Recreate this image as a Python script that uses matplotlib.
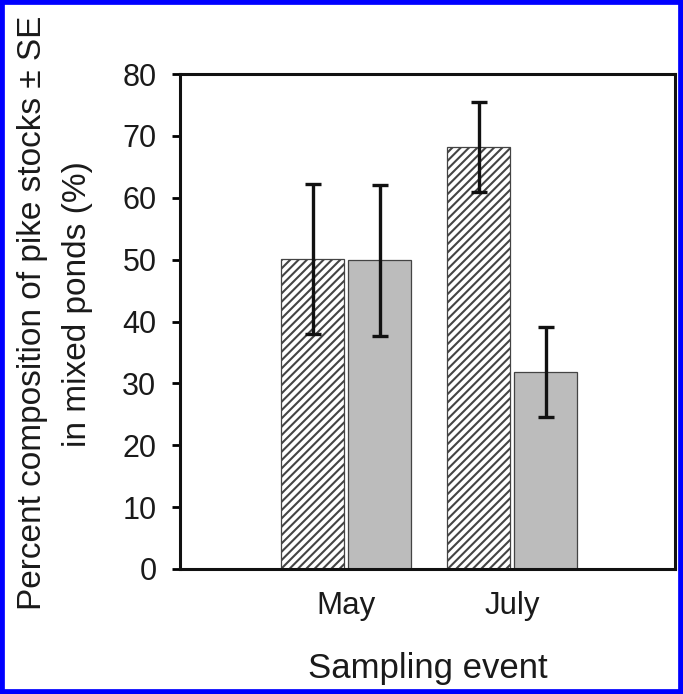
import matplotlib
matplotlib.use("Agg")
import matplotlib.pyplot as plt
from matplotlib.patches import Rectangle
import numpy as np

plt.rcParams['font.family'] = ['Liberation Sans', 'DejaVu Sans']
plt.rcParams['hatch.linewidth'] = 1.5
plt.rcParams['hatch.color'] = '#333333'

categories = ["May", "July"]
series_a = [50.1, 68.2]      # hatched
series_a_se = [12.2, 7.3]
series_b = [49.9, 31.8]      # grey
series_b_se = [12.2, 7.3]
yticks = [0, 10, 20, 30, 40, 50, 60, 70, 80]

fig = plt.figure(figsize=(6.83, 6.94), dpi=100)
ax = fig.add_axes([180/683, 1-569/694, 495/683, 495/694])

x = np.arange(len(categories))
w = 0.38
gap = 0.012
ax.bar(x - w/2 - gap, series_a, width=w, color='white', edgecolor='#444444',
       linewidth=0.9, hatch='////', zorder=2)
ax.bar(x + w/2 + gap, series_b, width=w, color='#bcbcbc', edgecolor='#444444',
       linewidth=0.9, zorder=2)
ax.errorbar(x - w/2 - gap, series_a, yerr=series_a_se, fmt='none', ecolor='#111111',
            elinewidth=2.4, capsize=5.8, capthick=2.4, zorder=3)
ax.errorbar(x + w/2 + gap, series_b, yerr=series_b_se, fmt='none', ecolor='#111111',
            elinewidth=2.4, capsize=5.8, capthick=2.4, zorder=3)

ax.set_xlim(-1.0, 1.98)
ax.set_ylim(0, 80)
ax.set_yticks(yticks)
ax.set_yticklabels([str(t) for t in yticks], fontsize=22, color='#1a1a1a')
ax.set_xticks(x)
ax.set_xticklabels(categories, fontsize=22.5, color='#1a1a1a')
ax.tick_params(axis='x', length=0, pad=16)
ax.tick_params(axis='y', length=6, width=2, pad=11, direction='out')
for s in ax.spines.values():
    s.set_linewidth(2.2)
    s.set_color('#111111')

ax.set_xlabel("Sampling event", fontsize=25, labelpad=22, color='#1a1a1a')
fig.text(33/683, 1-313/694, "Percent composition of pike stocks \u00b1 SE",
         rotation=90, ha='center', va='center', fontsize=24, color='#1a1a1a')
fig.text(78/683, 1-304/694, "in mixed ponds (%)",
         rotation=90, ha='center', va='center', fontsize=24, color='#1a1a1a')

fig.patches.append(Rectangle((0, 0), 1, 1, transform=fig.transFigure, fill=False,
                             edgecolor='#0000ff', linewidth=7, zorder=10))

fig.savefig("out.png", dpi=100)
